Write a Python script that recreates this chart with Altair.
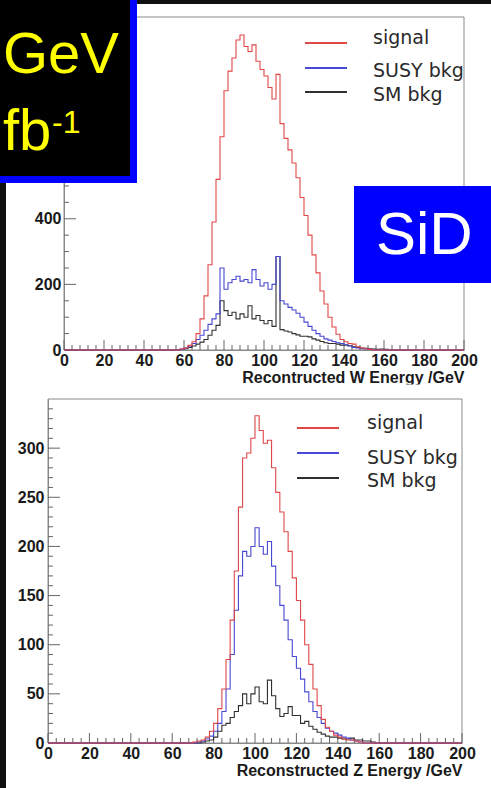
import altair as alt
import pandas as pd

W, H = 491, 788
BIN = 2

# ---------------- data (2 GeV bins, value for [edge, edge+2)) ----------------
W_START = 56
signal_w = [0, 3, 6, 14, 25, 50, 95, 165, 260, 390,
            520, 650, 790, 850, 890, 945, 960, 925, 910, 930,
            880, 855, 835, 800, 765, 840, 690, 645, 610, 570,
            525, 465, 410, 350, 290, 235, 180, 140, 100, 70,
            48, 32, 25, 20, 18, 10, 6, 4, 2, 0]
susy_w = [0, 2, 6, 12, 20, 32, 45, 60, 78, 95,
          110, 250, 185, 205, 215, 225, 210, 215, 205, 245,
          215, 195, 205, 185, 200, 285, 150, 140, 130, 122,
          112, 100, 85, 72, 60, 50, 42, 34, 30, 26,
          22, 20, 16, 12, 8, 6, 4, 3, 2, 0]
sm_w = [0, 2, 4, 8, 12, 18, 24, 32, 45, 60,
        75, 150, 120, 105, 115, 95, 110, 100, 135, 95,
        105, 90, 80, 90, 72, 285, 62, 58, 55, 50,
        46, 42, 42, 40, 34, 30, 26, 22, 20, 20,
        18, 15, 15, 13, 10, 8, 6, 5, 4, 3,
        2, 3, 2, 0]

Z_START = 70
signal_z = [1, 2, 3, 6, 12, 20, 35, 55, 85, 125,
            175, 240, 290, 295, 310, 333, 318, 305, 308, 280,
            255, 235, 215, 195, 168, 145, 125, 100, 80, 55,
            38, 24, 16, 12, 8, 6, 4, 3, 3, 2,
            1, 0]
susy_z = [0, 1, 2, 4, 7, 12, 20, 32, 55, 90,
          135, 170, 195, 190, 200, 219, 200, 192, 205, 180,
          160, 140, 125, 105, 88, 76, 65, 52, 42, 32,
          26, 20, 15, 12, 10, 8, 6, 5, 3, 2,
          1, 0]
sm_z = [0, 0, 1, 2, 3, 6, 12, 18, 20, 26,
        32, 38, 50, 40, 50, 57, 42, 40, 64, 48,
        35, 27, 30, 37, 28, 28, 20, 22, 17, 14,
        11, 9, 7, 6, 6, 5, 4, 4, 5, 3,
        3, 2, 2, 1, 0]

x_major = list(range(0, 201, 20))
x_minor = [v for v in range(0, 201, 4) if v % 20]
w_y_labels = [0, 200, 400]
w_y_major = list(range(0, 1001, 200))
w_y_minor = [v for v in range(0, 1001, 50) if v % 200]
z_y_labels = list(range(0, 301, 50))
z_y_major = list(range(0, 301, 50))
z_y_minor = [v for v in range(0, 341, 10) if v % 50]

W_YMAX = 1015
Z_YMAX = 350
series_names = ["signal", "SUSY bkg", "SM bkg"]
series_colors = ["#e04848", "#4848d4", "#303030"]

LABEL_FONT = "Liberation Sans"
LEG_FONT = "DejaVu Sans"
dummy = pd.DataFrame({"k": [0]})


def hist_frame(start, vals):
    xs, ys = [], []
    for e in range(0, 200, BIN):
        i = (e - start) // BIN
        v = vals[i] if (e >= start and i < len(vals)) else 0
        xs.append(e)
        ys.append(v)
    xs.append(200)
    ys.append(ys[-1])
    return pd.DataFrame({"x": xs, "y": ys})


def panel(start, series, ymax, x_px, y_px, ylabels, y_major, y_minor, title, ylabpad):
    px_x = (x_px[1] - x_px[0]) / 200.0
    px_y = (y_px[0] - y_px[1]) / float(ymax)
    xs = alt.Scale(domain=[0, 200], range=list(x_px), nice=False, zero=False)
    ys = alt.Scale(domain=[0, ymax], range=list(y_px), nice=False, zero=False)
    ax_x = alt.Axis(orient="bottom", offset=y_px[0] - H, values=x_major, ticks=False, tickSize=0,
                    grid=False, domainColor="#888888", labelFlush=False, labelOverlap=False,
                    labelFont=LABEL_FONT, labelFontSize=16, labelFontWeight="bold",
                    labelColor="#1a1a1a", labelPadding=2, format="d",
                    titleFont=LABEL_FONT, titleFontSize=16, titleFontWeight="bold",
                    titleColor="#1a1a1a", titleAnchor="end", titleAlign="right", titlePadding=1)
    ax_y = alt.Axis(orient="left", offset=-x_px[0], values=ylabels, ticks=False, tickSize=0,
                    grid=False, domainColor="#888888", labelOverlap=False,
                    labelFont=LABEL_FONT, labelFontSize=16, labelFontWeight="bold",
                    labelColor="#1a1a1a", labelPadding=ylabpad, format="d")
    X = alt.X("x:Q", scale=xs, axis=ax_x, title=title)
    Y = alt.Y("y:Q", scale=ys, axis=ax_y, title="")

    layers = []
    frame_df = pd.DataFrame({"x": [0], "x2": [200], "y": [0], "y2": [ymax]})
    layers.append(alt.Chart(frame_df).mark_rect(fillOpacity=0, stroke="#8a8a8a", strokeWidth=1)
                  .encode(x=X, x2="x2", y=Y, y2="y2"))
    xt = pd.DataFrame({"x": x_major + x_minor,
                       "y": [0] * (len(x_major) + len(x_minor)),
                       "y2": [10 / px_y] * len(x_major) + [5 / px_y] * len(x_minor)})
    layers.append(alt.Chart(xt).mark_rule(color="#666666", strokeWidth=1)
                  .encode(x=X, y=Y, y2="y2"))
    yt = pd.DataFrame({"y": y_major + y_minor,
                       "x": [0] * (len(y_major) + len(y_minor)),
                       "x2": [12 / px_x] * len(y_major) + [5 / px_x] * len(y_minor)})
    layers.append(alt.Chart(yt).mark_rule(color="#666666", strokeWidth=1)
                  .encode(y=Y, x=X, x2="x2"))
    for vals, col in reversed(list(zip(series, series_colors))):
        layers.append(alt.Chart(hist_frame(start, vals))
                      .mark_line(interpolate="step-after", color=col, strokeWidth=1.1)
                      .encode(x=X, y=Y))
    return alt.layer(*layers)


top = panel(W_START, [signal_w, susy_w, sm_w], W_YMAX, (64, 464), (350, 17),
            w_y_labels, w_y_major, w_y_minor, "Recontructed W Energy /GeV", 3)
bottom = panel(Z_START, [signal_z, susy_z, sm_z], Z_YMAX, (48, 462), (743, 399),
               z_y_labels, z_y_major, z_y_minor, "Reconstructed Z Energy /GeV", 4)


def box(x1, x2, y1, y2, color):
    return alt.Chart(dummy).mark_rect(color=color).encode(
        x=alt.value(x1), x2=alt.value(x2), y=alt.value(y1), y2=alt.value(y2))


def txt(s, x, y, size, color, font, align="left", weight="normal"):
    return alt.Chart(dummy).mark_text(text=s, font=font, fontSize=size, color=color,
                                      align=align, baseline="alphabetic", fontWeight=weight).encode(
        x=alt.value(x), y=alt.value(y))


def legend(line_x, line_ys, text_x, text_ys):
    out = []
    for name, col, ly, ty in zip(series_names, series_colors, line_ys, text_ys):
        out.append(alt.Chart(dummy).mark_rule(color=col, strokeWidth=1.8).encode(
            x=alt.value(line_x[0]), x2=alt.value(line_x[1]), y=alt.value(ly)))
        out.append(txt(name, text_x, ty, 19, "#2a2a2a", LEG_FONT))
    return out


overlays = []
overlays += legend((305, 347), (43, 68, 92), 373, (44, 77, 101))
overlays += legend((297, 339), (428, 453, 478), 367, (429, 464, 487))
overlays.append(box(200, 491, 384.5, 397, "white"))
overlays.append(box(0, W, 0, 4, "#101010"))
overlays.append(box(0, 6, 0, H, "#101010"))
overlays.append(box(0, 137, 0, 183, "#0000ff"))
overlays.append(box(0, 130, 0, 176, "#000000"))
overlays.append(txt("GeV", 3, 73, 58, "#ffff00", LABEL_FONT))
overlays.append(txt("fb", 3, 150, 58, "#ffff00", LABEL_FONT))
overlays.append(txt("-1", 52, 133, 32, "#ffff00", LABEL_FONT))
overlays.append(box(354, 491, 186, 283, "#0000ff"))
overlays.append(txt("SiD", 376, 254, 60, "white", LABEL_FONT))

chart = alt.layer(top, bottom, *overlays).resolve_scale(
    x="independent", y="independent"
).properties(
    width=W, height=H, padding=0,
    autosize=alt.AutoSizeParams(type="none"),
    background="white",
).configure_view(stroke=None)

chart.save("out.html", embed_options={"renderer": "svg", "actions": False})
